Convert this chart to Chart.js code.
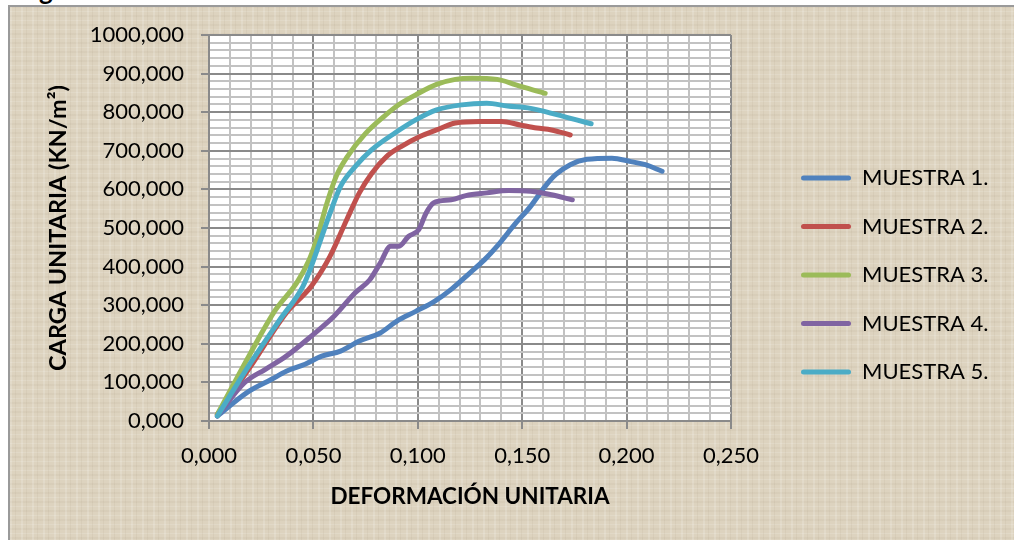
<!DOCTYPE html>
<html>
<head>
<meta charset="utf-8">
<script src="https://cdn.jsdelivr.net/npm/chart.js@4.4.1/dist/chart.umd.min.js"></script>
<style>
  html, body { margin: 0; padding: 0; background: #fff; width: 1014px; height: 540px; overflow: hidden; }
  #frame {
    position: absolute; left: 8px; top: 5px; width: 1020px; height: 545px;
    border-left: 2px solid #9a9a9a; border-top: 2px solid #9a9a9a;
    background-color: #ddd3bf;
    background-image:
      repeating-linear-gradient(90deg, rgba(255,255,255,0.16) 0 2px, rgba(0,0,0,0) 2px 5px, rgba(120,100,70,0.06) 5px 6px, rgba(0,0,0,0) 6px 11px),
      repeating-linear-gradient(0deg, rgba(255,255,255,0.13) 0 1px, rgba(0,0,0,0) 1px 4px, rgba(120,100,70,0.05) 4px 6px, rgba(0,0,0,0) 6px 9px);
  }
  #head { position: absolute; left: 39px; top: -23px; font: bold 26px Lato; line-height: 26px; color: #000; }
  canvas { position: absolute; left: 0; top: 0; }
</style>
</head>
<body>
<div id="frame"></div>
<div id="head">g</div>
<canvas id="c" width="1014" height="540"></canvas>
<script>
// ---- data ----
const seriesNames = ['MUESTRA 1.', 'MUESTRA 2.', 'MUESTRA 3.', 'MUESTRA 4.', 'MUESTRA 5.'];

const m1X = [0.004, 0.018, 0.030, 0.037, 0.046, 0.054, 0.063, 0.072, 0.082, 0.090, 0.099, 0.108, 0.116, 0.125, 0.132, 0.138, 0.147, 0.154, 0.161, 0.166, 0.173, 0.181, 0.193, 0.202, 0.209, 0.217];
const m1Y = [13, 73, 108, 129, 147, 168, 181, 207, 228, 259, 284, 310, 341, 384, 418, 453, 513, 556, 608, 638, 664, 678, 681, 672, 664, 647];

const m2X = [0.004, 0.020, 0.037, 0.049, 0.058, 0.066, 0.072, 0.078, 0.085, 0.092, 0.101, 0.109, 0.118, 0.130, 0.140, 0.149, 0.157, 0.164, 0.173];
const m2Y = [17, 142, 280, 349, 427, 522, 591, 642, 685, 711, 737, 754, 772, 776, 776, 767, 759, 754, 741];

const m3X = [0.004, 0.020, 0.032, 0.042, 0.048, 0.052, 0.056, 0.061, 0.066, 0.075, 0.084, 0.091, 0.099, 0.109, 0.118, 0.126, 0.138, 0.147, 0.155, 0.161];
const m3Y = [17, 177, 289, 358, 418, 478, 556, 635, 683, 745, 790, 820, 845, 872, 885, 888, 885, 871, 858, 849];

const m4X = [0.004, 0.017, 0.027, 0.037, 0.049, 0.060, 0.070, 0.077, 0.082, 0.087, 0.091, 0.0955, 0.1005, 0.104, 0.1075, 0.116, 0.123, 0.133, 0.1435, 0.154, 0.164, 0.174];
const m4Y = [13, 99, 134, 168, 220, 272, 332, 366, 409, 453, 453, 478, 496, 539, 565, 573, 584, 591, 597, 595, 586, 573];

const m5X = [0.004, 0.020, 0.034, 0.045, 0.049, 0.0535, 0.058, 0.063, 0.070, 0.078, 0.089, 0.099, 0.109, 0.121, 0.133, 0.143, 0.154, 0.167, 0.176, 0.183];
const m5Y = [13, 151, 263, 349, 401, 470, 539, 608, 659, 703, 746, 780, 806, 819, 823, 816, 810, 793, 780, 770];

const xMajorTicks = [0, 0.05, 0.10, 0.15, 0.20, 0.25];
const yMajorTicks = [0, 100, 200, 300, 400, 500, 600, 700, 800, 900, 1000];

const seriesColors = ['#4F81BD', '#C0504D', '#9BBB59', '#8064A2', '#4BACC6'];

// ---- chart ----
Chart.defaults.font.family = 'Lato';
Chart.defaults.color = '#000';

const seriesX = [m1X, m2X, m3X, m4X, m5X];
const seriesY = [m1Y, m2Y, m3Y, m4Y, m5Y];
const pairs = (xs, ys) => xs.map((x, i) => ({ x: x, y: ys[i] }));
const fmt = v => v.toFixed(3).replace('.', ',');
const isMajorX = v => xMajorTicks.some(t => Math.abs(t - v) < 1e-6);
const isMajorY = v => yMajorTicks.some(t => Math.abs(t - v) < 1e-6);

const GRID_MAJOR = '#8a8a8a';
const GRID_MINOR = '#c2c2c2';
const LEGEND_FONT = 22, LEGEND_PAD = 26.5, LEGEND_BOX = 50;

// legend sizing so that the legend sits where the original one does
const mctx = document.createElement('canvas').getContext('2d');
mctx.font = LEGEND_FONT + 'px Lato';
const maxText = Math.max.apply(null, seriesNames.map(t => mctx.measureText(t).width));
const legendW = LEGEND_PAD + LEGEND_BOX + LEGEND_FONT / 2 + maxText + 10;
const padRight = Math.max(0, 1014 - 774.5 - legendW);

const plotBg = {
  id: 'plotBg',
  beforeDraw(chart) {
    const { ctx, chartArea: a } = chart;
    ctx.save();
    ctx.fillStyle = '#ffffff';
    ctx.fillRect(a.left, a.top, a.right - a.left, a.bottom - a.top);
    ctx.restore();
  }
};

// let the legend keep its natural width (layout would cap it otherwise)
const legendWidthFix = {
  id: 'legendWidthFix',
  beforeLayout(chart) {
    const lg = chart.legend;
    if (lg && !lg._widthFixed) {
      const origFit = lg.fit;
      lg.fit = function () {
        const mw = this.maxWidth;
        this.maxWidth = 2000;
        origFit.call(this);
        this.maxWidth = mw;
      };
      lg._widthFixed = true;
    }
  }
};

new Chart(document.getElementById('c'), {
  type: 'line',
  data: {
    datasets: seriesNames.map((name, i) => ({
      label: name,
      data: pairs(seriesX[i], seriesY[i]),
      borderColor: seriesColors[i],
      backgroundColor: seriesColors[i],
      borderWidth: 5,
      pointRadius: 0,
      pointHoverRadius: 0,
      cubicInterpolationMode: 'monotone',
      borderCapStyle: 'round',
      borderJoinStyle: 'round',
      fill: false,
      order: seriesNames.length - i,
      xAxisID: 'x',
      yAxisID: 'y'
    }))
  },
  options: {
    responsive: false,
    animation: false,
    devicePixelRatio: 1,
    layout: { padding: { left: 0, top: 35, right: padRight, bottom: 25 } },
    plugins: {
      tooltip: { enabled: false },
      legend: {
        position: 'right',
        align: 'center',
        labels: {
          boxWidth: LEGEND_BOX,
          boxHeight: 5,
          padding: LEGEND_PAD,
          font: { size: LEGEND_FONT },
          color: '#000',
          useBorderRadius: true,
          borderRadius: 2.5,
          sort: (a, b) => a.datasetIndex - b.datasetIndex,
          generateLabels(chart) {
            const items = Chart.defaults.plugins.legend.labels.generateLabels(chart);
            items.forEach(it => { it.fillStyle = it.strokeStyle; it.lineWidth = 0; });
            return items;
          }
        }
      }
    },
    scales: {
      x: {
        type: 'linear',
        min: 0,
        max: 0.25,
        afterFit: s => { s.height = 94; },
        border: { color: GRID_MAJOR, width: 2 },
        grid: {
          color: c => (c.tick && isMajorX(c.tick.value)) ? GRID_MAJOR : GRID_MINOR,
          lineWidth: 2,
          tickLength: 8,
          tickWidth: 2,
          tickColor: c => (c.tick && isMajorX(c.tick.value)) ? GRID_MAJOR : 'rgba(0,0,0,0)'
        },
        ticks: {
          stepSize: 0.01,
          autoSkip: false,
          maxRotation: 0,
          minRotation: 0,
          padding: 14,
          font: { size: 22 },
          color: '#000',
          callback: v => isMajorX(v) ? fmt(v) : ''
        },
        title: {
          display: true,
          text: 'DEFORMACIÓN UNITARIA',
          color: '#000',
          font: { size: 22.5, weight: 'bold' },
          padding: { top: 0, bottom: 5 }
        }
      },
      y: {
        type: 'linear',
        min: 0,
        max: 1000,
        afterFit: s => { s.width = 209; },
        border: { color: GRID_MAJOR, width: 2 },
        grid: {
          color: c => (c.tick && isMajorY(c.tick.value)) ? GRID_MAJOR : GRID_MINOR,
          lineWidth: 2,
          tickLength: 8,
          tickWidth: 2,
          tickColor: c => (c.tick && isMajorY(c.tick.value)) ? GRID_MAJOR : 'rgba(0,0,0,0)'
        },
        ticks: {
          stepSize: 20,
          autoSkip: false,
          padding: 17,
          font: { size: 22 },
          color: '#000',
          callback: v => isMajorY(v) ? fmt(v) : ''
        },
        title: {
          display: true,
          text: 'CARGA UNITARIA (KN/m²)',
          color: '#000',
          font: { size: 23.5, weight: 'bold' },
          padding: { top: 44, bottom: 0 }
        }
      },
      gap: {
        type: 'linear',
        position: 'right',
        display: true,
        afterFit: s => { s.width = 43.5; },
        grid: { display: false },
        border: { display: false },
        ticks: { display: false }
      }
    }
  },
  plugins: [plotBg, legendWidthFix]
});
</script>
</body>
</html>
